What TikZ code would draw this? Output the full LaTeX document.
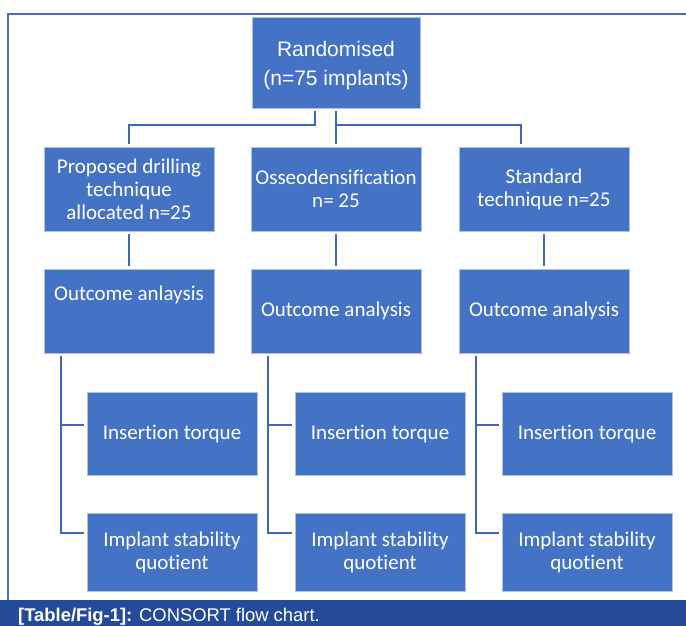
\documentclass[tikz,border=0pt]{standalone}
\usepackage{fontspec}
\setmainfont{Carlito}[Ligatures=NoCommon]
\newfontfamily\headfont{Liberation Sans}
\definecolor{boxblue}{HTML}{4472C4}
\definecolor{linkblue}{HTML}{4068B8}
\definecolor{frameblue}{HTML}{4A6DB3}
\definecolor{capblue}{HTML}{234B9A}

\begin{document}
\begin{tikzpicture}[x=1pt, y=-1pt,
	box/.style={draw=white!55!boxblue, line width=0.6pt, fill=boxblue, text=white, align=center, inner sep=0pt, minimum width=170pt, minimum height=84pt, font=\fontsize{21}{23}\selectfont},
	link/.style={draw=linkblue, line width=2pt, shorten <=3pt, shorten >=3pt}]
	\useasboundingbox (0, 0) rectangle (686, 626);
	\clip (0, 0) rectangle (686, 626);

	% frame and caption bar
	\draw[frameblue, line width=1.3pt] (686, 14) -- (8, 14) -- (8, 600);
	\fill[capblue] (0, 600) rectangle (686, 626);
	\node[anchor=base west, inner sep=0pt, text=white, font=\headfont\fontsize{18.4}{20}\selectfont] (caption) at (18, 621) {\textbf{[Table/Fig-1]:} CONSORT flow chart.};

	% boxes
	\draw (336, 62.5) 	node[box, minimum width=168pt, minimum height=91pt, font=\headfont\fontsize{21}{29}\selectfont] 	(rand) 	{\rule{0pt}{21pt}Randomised\\(n=75 implants)};
	\draw (129, 189) 	node[box] 	(alloc1) 	{Proposed drilling\\technique\\allocated n=25};
	\draw (336, 189) 	node[box] 	(alloc2) 	{Osseodensification\\n= 25};
	\draw (544, 189) 	node[box] 	(alloc3) 	{Standard\\technique n=25};
	\draw (129, 311) 	node[box] 	(out1) 		{Outcome anlaysis\\[12pt]\mbox{}};
	\draw (336, 311) 	node[box] 	(out2) 		{Outcome analysis};
	\draw (544, 311) 	node[box] 	(out3) 		{Outcome analysis};
	\draw (172, 433.5) 	node[box, minimum height=83pt] 	(ins1) 	{Insertion torque};
	\draw (380, 433.5) 	node[box, minimum height=83pt] 	(ins2) 	{Insertion torque};
	\draw (587, 433.5) 	node[box, minimum height=83pt] 	(ins3) 	{Insertion torque};
	\draw (172, 552) 	node[box, minimum height=78pt] 	(isq1) 	{Implant stability\\quotient};
	\draw (380, 552) 	node[box, minimum height=78pt] 	(isq2) 	{Implant stability\\quotient};
	\draw (587, 552) 	node[box, minimum height=78pt] 	(isq3) 	{Implant stability\\quotient};

	% connectors
	\draw[link] ([xshift=-21pt]rand.south) -- ++(0, 17) -| (alloc1.north);
	\draw[link] (rand) -- (alloc2);
	\draw[link] (rand.south) -- ++(0, 17) -| ([xshift=-23pt]alloc3.north);
	\draw[link] (alloc1) -- (out1);
	\draw[link] (alloc2) -- (out2);
	\draw[link] (alloc3) -- (out3);
	\draw[link] ([xshift=-68pt]out1.south) |- ([yshift=9pt]ins1.west);
	\draw[link] ([xshift=-68pt]out1.south) |- ([yshift=19pt]isq1.west);
	\draw[link] ([xshift=-68pt]out2.south) |- ([yshift=9pt]ins2.west);
	\draw[link] ([xshift=-68pt]out2.south) |- ([yshift=19pt]isq2.west);
	\draw[link] ([xshift=-68pt]out3.south) |- ([yshift=9pt]ins3.west);
	\draw[link] ([xshift=-68pt]out3.south) |- ([yshift=19pt]isq3.west);
\end{tikzpicture}
\end{document}
